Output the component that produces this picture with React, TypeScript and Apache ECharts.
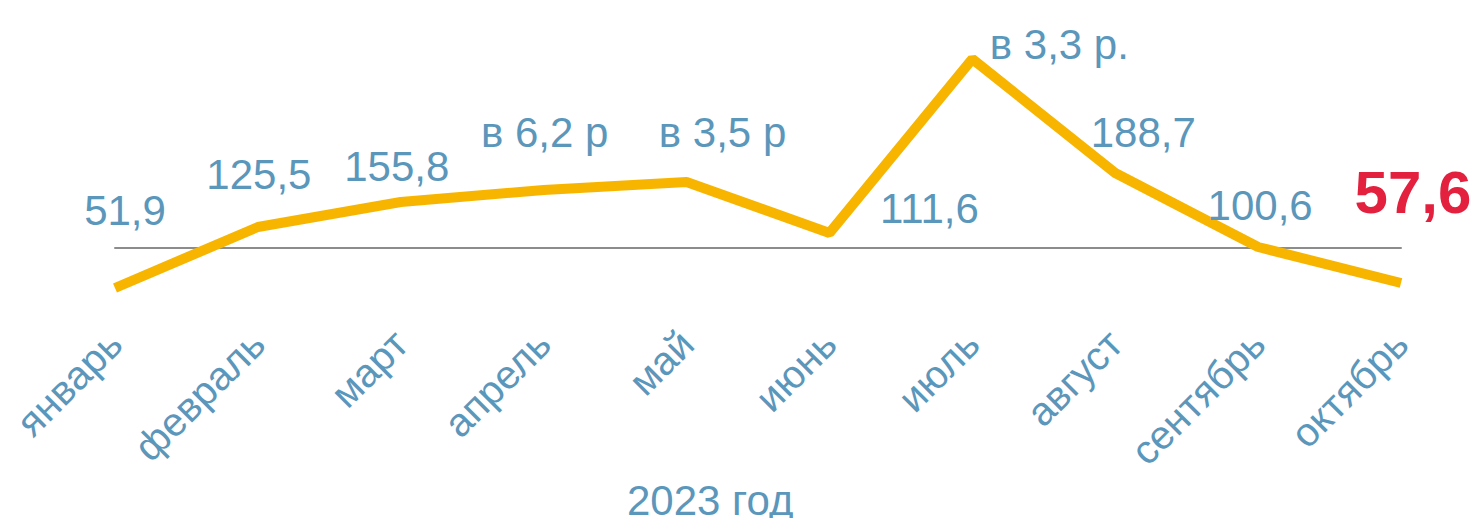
import React, { useEffect, useRef } from "react";
import * as echarts from "echarts";

const categories = ["январь", "февраль", "март", "апрель", "май", "июнь", "июль", "август", "сентябрь", "октябрь"];
const lineValues = [-40, 21, 46, 58, 66, 15, 189, 75, 1, -35];
const labelTexts = ["51,9", "125,5", "155,8", "в 6,2 р", "в 3,5 р", "111,6", "в 3,3 р.", "188,7", "100,6", "57,6"];
const axisTitle = "2023 год";

// label placement (layout only)
const labelOffsets: [number, number][] = [
  [10, -78], [1, -53], [-4, -36], [1, -58], [36, -50],
  [100, -25], [87, -15], [28, -41], [2, -42], [12, -91],
];

const BLUE = "#5b96bb";
const FONT = "Arial, 'Liberation Sans', sans-serif";

export default function App() {
  const ref = useRef<HTMLDivElement>(null);
  useEffect(() => {
    document.body.style.margin = "0";
    if (!ref.current) return;
    const chart = echarts.init(ref.current, null, { renderer: "svg" });
    const lastIdx = lineValues.length - 1;
    chart.setOption({
      animation: false,
      backgroundColor: "#ffffff",
      title: {
        text: axisTitle,
        left: 627,
        top: 484,
        padding: 0,
        textStyle: { fontSize: 42, lineHeight: 32, fontWeight: "normal", color: BLUE, fontFamily: FONT },
      },
      grid: { left: 115, right: 76, top: 48, height: 250, containLabel: false },
      xAxis: [
        {
          type: "category",
          data: categories,
          boundaryGap: false,
          position: "bottom",
          axisLine: { show: false, onZero: false },
          axisTick: { show: false },
          axisLabel: { rotate: 45, interval: 0, fontSize: 40, color: BLUE, fontFamily: FONT, margin: 39 },
        },
        {
          type: "category",
          data: categories,
          boundaryGap: false,
          position: "bottom",
          axisLine: { show: true, onZero: true, lineStyle: { color: "#8c8c8c", width: 2 } },
          axisTick: { show: false },
          axisLabel: { show: false },
        },
      ],
      yAxis: {
        type: "value",
        min: -50,
        max: 200,
        interval: 50,
        axisLine: { show: false },
        axisLabel: { show: false },
        axisTick: { show: false },
        splitLine: { show: false },
      },
      series: [
        {
          type: "line",
          symbol: "circle",
          symbolSize: 2,
          showSymbol: true,
          itemStyle: { color: "rgba(0,0,0,0)" },
          lineStyle: { color: "#f8b500", width: 10 },
          data: lineValues.map((v, i) => ({
            value: v,
            label:
              i === lastIdx
                ? { offset: labelOffsets[i], color: "#e3213f", fontWeight: "bold", fontSize: 60 }
                : { offset: labelOffsets[i] },
          })),
          label: {
            show: true,
            position: "inside",
            align: "center",
            verticalAlign: "middle",
            fontSize: 42,
            color: BLUE,
            fontFamily: FONT,
            formatter: (p: any) => labelTexts[p.dataIndex],
          },
        },
      ],
    });
    return () => chart.dispose();
  }, []);
  return <div ref={ref} style={{ width: 1477, height: 518 }} />;
}
